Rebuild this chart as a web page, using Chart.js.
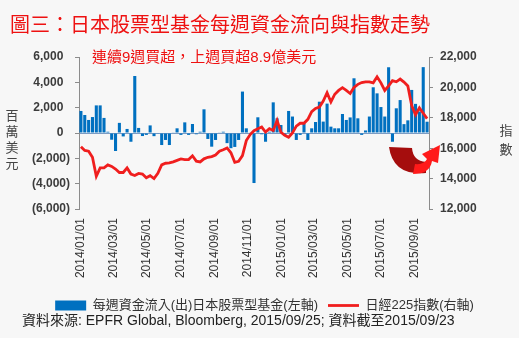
<!DOCTYPE html>
<html lang="zh-Hant">
<head>
<meta charset="utf-8">
<title>日本股票型基金每週資金流向與指數走勢</title>
<script src="https://cdn.jsdelivr.net/npm/chart.js@4"></script>
<style>
  html, body { margin: 0; padding: 0; background: #f7f7f7; }
  #wrap { width: 519px; height: 338px; }
</style>
</head>
<body>
<div id="wrap"><canvas id="flowChart" width="519" height="338"></canvas></div>
<script>
// weekly data, first week = 2014/01/01, one point every 7 days
const firstWeek = '2014/01/01';

// weekly net flows into Japan equity funds (USD mn)
const flows = [
  1740, 1420, 1030, 1260, 2180, 2180, 1190, 100, -530, -1420,
  800, -270, 320, -690, 4500, 400, -240, -150, 600, -250,
  -50, -950, -550, -950, 50, 370, -150, 840, -150, 710,
  -100, 100, 1870, -470, -1080, -550, 50, 100, -800, -1200,
  -1100, -550, 3270, 370, 50, -3950, 1240, -100, -690, 100,
  2420, 1160, 630, -240, 1740, 1300, -550, -150, 760, -550,
  370, 870, 2470, 900, 2320, 500, 370, 370, 1500, 1030,
  1230, 4320, 1160, -150, 200, 1300, 3610, 3130, 2050, 1300,
  5190, -690, 1950, 2600, 700, 1000, 3400, 2300, 1700, 5200,
  890
];

// Nikkei 225 weekly close
const nikkei = [
  16100, 15850, 15800, 15400, 14150, 14700, 14700, 14900, 14800, 14630,
  14400, 14400, 14700, 14300, 14200, 14340, 14300, 14050, 14190, 14000,
  14350, 14900, 15010, 15030, 15100, 15200, 15290, 15250, 15250, 15500,
  15150, 15100, 15300, 15400, 15450, 15550, 15800, 15900, 16020, 15700,
  15070, 15140, 15510, 16500, 16900, 17150, 17280, 17390, 17060, 17280,
  17170, 17830, 17050, 16850, 16720, 17000, 17450, 17640, 17640, 17900,
  18400, 18620, 18710, 19100, 19650, 19040, 19550, 19800, 19980, 19800,
  19600, 20000, 20200, 20320, 20370, 20370, 20300, 20700, 20300, 19800,
  20100, 20450, 20370, 20550, 20350, 20100, 18800, 18200, 18650, 18300,
  17950
];

const tickLabels = [
  '2014/01/01', '2014/03/01', '2014/05/01', '2014/07/01', '2014/09/01', '2014/11/01',
  '2015/01/01', '2015/03/01', '2015/05/01', '2015/07/01', '2015/09/01'
];

const seriesNames = ['每週資金流入(出)日本股票型基金(左軸)', '日經225指數(右軸)'];
const titleText = '圖三：日本股票型基金每週資金流向與指數走勢';
const flowNote = '連續9週買超，上週買超8.9億美元';
const sourceNote = '資料來源: EPFR Global, Bloomberg, 2015/09/25; 資料截至2015/09/23';
const leftAxisName = '百萬美元';
const rightAxisName = '指數';

const fontStack = '"Liberation Sans", "Noto Sans CJK TC", sans-serif';
const barBlue = '#0070c0';
const lineRed = '#f01e1e';
const titleRed = '#ee1111';
const axisGray = '#8c8c8c';

function dayOffset(label) {
  const [y, m, d] = label.split('/').map(Number);
  const [y0, m0, d0] = firstWeek.split('/').map(Number);
  return (Date.UTC(y, m - 1, d) - Date.UTC(y0, m0 - 1, d0)) / 86400000;
}

const flowPoints = flows.map((v, i) => ({ x: i * 7, y: v }));
const indexPoints = nikkei.map((v, i) => ({ x: i * 7, y: v }));

function thousands(v) {
  const s = Math.abs(v).toLocaleString('en-US');
  return v < 0 ? '(' + s + ')' : s;
}

// texts and the arrow that sit outside the normal chart parts
const annotations = {
  id: 'annotations',
  afterDraw(chart) {
    const { ctx, chartArea: area, scales } = chart;
    const zeroY = scales.y.getPixelForValue(0);
    ctx.save();
    ctx.textBaseline = 'middle';

    ctx.fillStyle = titleRed;
    ctx.font = '15px ' + fontStack;
    ctx.fillText(flowNote, area.left + 13, area.top + 1);

    ctx.fillStyle = '#444';
    ctx.font = '13px ' + fontStack;
    ctx.textAlign = 'center';
    leftAxisName.split('').forEach((ch, i) => ctx.fillText(ch, 12, zeroY - 17 + i * 16));
    rightAxisName.split('').forEach((ch, i) => ctx.fillText(ch, 506, zeroY - 2 + i * 19.5));

    ctx.textAlign = 'left';
    ctx.fillStyle = '#222';
    ctx.font = '14px ' + fontStack;
    ctx.fillText(sourceNote, 22, chart.height - 17);

    // curved arrow turning back up
    ctx.translate(area.right - 40, zeroY + 11);
    ctx.fillStyle = '#a50d0d';
    ctx.beginPath();
    ctx.moveTo(0, 3);
    ctx.lineTo(23, 4);
    ctx.quadraticCurveTo(24, 17, 37, 18);
    ctx.lineTo(37, 29);
    ctx.quadraticCurveTo(4, 32, 0, 3);
    ctx.closePath();
    ctx.fill();

    ctx.fillStyle = '#ff1a1a';
    ctx.beginPath();
    ctx.moveTo(24, 30);
    ctx.quadraticCurveTo(41, 30, 43, 17);
    ctx.lineTo(49, 19);
    ctx.lineTo(51, 1);
    ctx.lineTo(33, 10);
    ctx.lineTo(38, 15);
    ctx.quadraticCurveTo(35, 21, 26, 20);
    ctx.closePath();
    ctx.fill();
    ctx.restore();
  }
};

const ctx = document.getElementById('flowChart');

new Chart(ctx, {
  type: 'bar',
  data: {
    datasets: [{
      type: 'bar',
      label: seriesNames[0],
      data: flowPoints,
      yAxisID: 'y',
      backgroundColor: barBlue,
      borderWidth: 0,
      barPercentage: 1,
      categoryPercentage: 0.8,
      pointStyle: 'rect',
      order: 1
    }, {
      type: 'line',
      label: seriesNames[1],
      data: indexPoints,
      yAxisID: 'y1',
      borderColor: lineRed,
      backgroundColor: lineRed,
      borderWidth: 2.8,
      pointRadius: 0,
      pointStyle: 'line',
      tension: 0,
      order: 0
    }]
  },
  options: {
    responsive: false,
    animation: false,
    layout: { padding: { left: 10, right: 0, top: 0, bottom: 16 } },
    plugins: {
      title: {
        display: true,
        text: titleText,
        align: 'start',
        color: titleRed,
        font: { family: fontStack, size: 20, weight: 'normal' },
        padding: { top: 14, bottom: 19 }
      },
      legend: {
        position: 'bottom',
        labels: {
          usePointStyle: true,
          pointStyleWidth: 31,
          boxHeight: 10,
          padding: 10,
          color: '#333',
          font: { family: fontStack, size: 13 },
          sort: (a, b) => a.datasetIndex - b.datasetIndex
        }
      },
      tooltip: { enabled: false }
    },
    scales: {
      x: {
        type: 'linear',
        offset: false,
        min: -3.5,
        max: (flows.length - 1) * 7 + 3.5,
        afterFit: (s) => { s.height = 80; },
        afterBuildTicks: (s) => {
          s.ticks = tickLabels.map(t => ({ value: dayOffset(t) }));
        },
        grid: { display: false, drawTicks: false, offset: false },
        border: { display: false },
        ticks: {
          autoSkip: false,
          minRotation: 90,
          maxRotation: 90,
          padding: 9,
          color: '#333',
          font: { family: fontStack, size: 12 },
          callback: (v) => tickLabels.find(t => dayOffset(t) === v)
        }
      },
      y: {
        position: 'left',
        min: -6000,
        max: 6000,
        afterFit: (s) => { s.width = 69; },
        grid: {
          color: (c) => (c.tick && c.tick.value === 0 ? '#7c9cc4' : 'rgba(0,0,0,0)'),
          tickColor: axisGray,
          tickLength: 4
        },
        border: { display: true, color: axisGray },
        ticks: {
          stepSize: 2000,
          padding: 5,
          color: '#3c3c3c',
          font: { family: fontStack, size: 12, weight: 'bold' },
          // positive numbers leave room for the closing bracket of negatives
          callback: (v) => (v < 0 ? thousands(v) : thousands(v) + '  ')
        }
      },
      y1: {
        position: 'right',
        min: 12000,
        max: 22000,
        afterFit: (s) => { s.width = 90; },
        grid: { drawOnChartArea: false, tickColor: axisGray, tickLength: 4 },
        border: { display: true, color: axisGray },
        ticks: {
          stepSize: 2000,
          padding: 7,
          color: '#3c3c3c',
          font: { family: fontStack, size: 12, weight: 'bold' },
          callback: (v) => thousands(v)
        }
      }
    }
  },
  plugins: [annotations]
});
</script>
</body>
</html>
